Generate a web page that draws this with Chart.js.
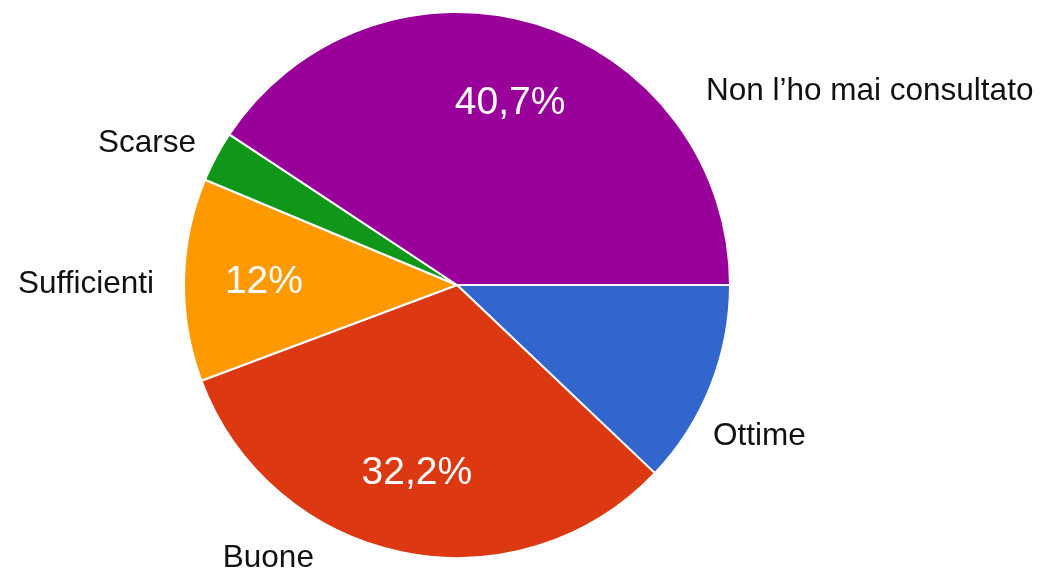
<!DOCTYPE html>
<html>
<head>
<meta charset="utf-8">
<script src="https://cdn.jsdelivr.net/npm/chart.js@4/dist/chart.umd.min.js"></script>
<style>
    html, body { margin: 0; padding: 0; background: #fff; }
    canvas { display: block; }
</style>
</head>
<body>
<canvas id="pieChart" width="1041" height="569"></canvas>
<script>
// Categories and shares (%), clockwise from 3 o'clock
const categories = ['Ottime', 'Buone', 'Sufficienti', 'Scarse', 'Non l\u2019ho mai consultato'];
const shares = [12.1, 32.2, 12, 3, 40.7];
const sliceColors = ['#3366cc', '#dc3912', '#ff9900', '#109618', '#990099'];
// Google only prints the percentage on some slices
const showPct = [false, true, true, false, true];

// Outside label placement, in units of the pie radius from its centre
const outsideLabels = [
    { dx: 0.938, dy: 0.585, align: 'left' },
    { dx: -0.691, dy: 1.033, align: 'center' },
    { dx: -1.110, dy: 0.029, align: 'right' },
    { dx: -0.956, dy: -0.489, align: 'right' },
    { dx: 0.912, dy: -0.676, align: 'left' }
];

function formatPct(v) {
    return String(v).replace('.', ',') + '%';
}

/**
 * Draw category names outside and percentages inside the slices
 */
const pieLabels = {
    id: 'pieLabels',
    afterDatasetsDraw(chart) {
        const ctx = chart.ctx;
        const arcs = chart.getDatasetMeta(0).data;
        ctx.save();
        arcs.forEach((arc, i) => {
            const r = arc.outerRadius;
            // category name
            const pos = outsideLabels[i];
            ctx.font = '31.5px "Liberation Sans", Arial, sans-serif';
            ctx.fillStyle = '#111';
            ctx.textAlign = pos.align;
            ctx.textBaseline = 'alphabetic';
            ctx.fillText(categories[i], arc.x + pos.dx * r, arc.y + pos.dy * r);

            // percentage inside the slice
            if (showPct[i]) {
                const mid = (arc.startAngle + arc.endAngle) / 2;
                const px = arc.x + Math.cos(mid) * r * 0.70;
                const py = arc.y + Math.sin(mid) * r * 0.70;
                ctx.font = '39px "Liberation Sans", Arial, sans-serif';
                ctx.fillStyle = '#fff';
                ctx.textAlign = 'center';
                ctx.textBaseline = 'middle';
                ctx.fillText(formatPct(shares[i]), px - 2, py + 1);
            }
        });
        ctx.restore();
    }
};

new Chart(document.getElementById('pieChart'), {
    type: 'pie',
    data: {
        labels: categories,
        datasets: [{
            data: shares,
            backgroundColor: sliceColors,
            borderColor: '#fff',
            borderWidth: 2,
            hoverOffset: 0
        }]
    },
    options: {
        responsive: false,
        animation: false,
        rotation: 90,
        layout: {
            padding: { left: 183, right: 310, top: 11, bottom: 10 }
        },
        plugins: {
            legend: { display: false },
            tooltip: { enabled: false }
        }
    },
    plugins: [pieLabels]
});
</script>
</body>
</html>
